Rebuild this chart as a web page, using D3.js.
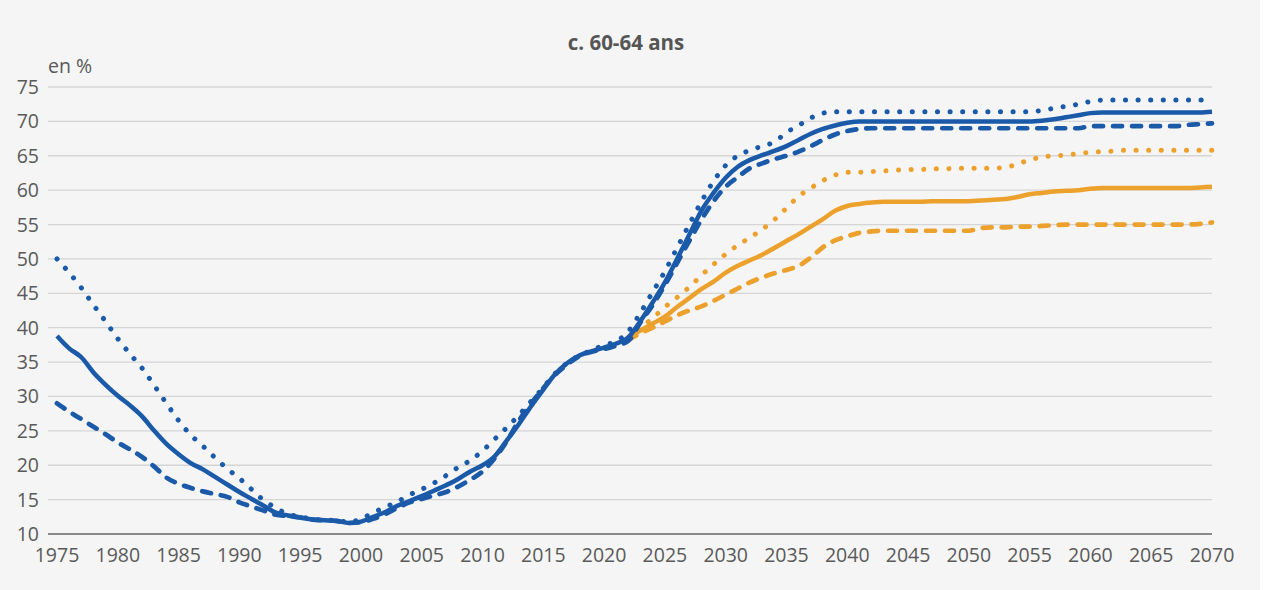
<!DOCTYPE html>
<html>
<head>
<meta charset="utf-8">
<script src="https://cdn.jsdelivr.net/npm/d3@7"></script>
<style>
  html, body { margin: 0; padding: 0; background: #ffffff; }
  svg { display: block; }
  text { font-family: "Open Sans", "Noto Sans", sans-serif; }
</style>
</head>
<body>
<div id="chart"></div>
<script>
// c. 60-64 ans - taux d'emploi, historique + projections
const title = 'c. 60-64 ans';
const unitLabel = 'en %';
const yTicks = [10, 15, 20, 25, 30, 35, 40, 45, 50, 55, 60, 65, 70, 75];
const xTicks = [1975, 1980, 1985, 1990, 1995, 2000, 2005, 2010, 2015, 2020,
  2025, 2030, 2035, 2040, 2045, 2050, 2055, 2060, 2065, 2070];

// blue series run 1975..2070, one value per year
const blueStart = 1975;
const blueSolid = [
  38.8, 37.0, 35.7, 33.5, 31.7, 30.1, 28.7, 27.1, 25.0, 23.1,
  21.6, 20.3, 19.4, 18.3, 17.2, 16.1, 15.1, 14.1, 13.1, 12.7,
  12.4, 12.1, 12.0, 11.9, 11.6, 11.8, 12.5, 13.2, 14.1, 14.8,
  15.5, 16.3, 17.1, 18.0, 19.1, 20.0, 21.3, 23.6, 26.0, 28.6,
  31.0, 33.3, 34.9, 36.0, 36.6, 37.1, 37.7, 38.6, 41.0, 43.7,
  46.6, 50.0, 53.5, 57.0, 59.6, 61.8, 63.4, 64.4, 65.1, 65.7,
  66.4, 67.3, 68.2, 68.9, 69.4, 69.8, 70.0, 70.0, 70.0, 70.0,
  70.0, 70.0, 70.0, 70.0, 70.0, 70.0, 70.0, 70.0, 70.0, 70.0,
  70.0, 70.1, 70.3, 70.6, 70.9, 71.2, 71.3, 71.3, 71.3, 71.3,
  71.3, 71.3, 71.3, 71.3, 71.3, 71.4
];
const blueDotted = [
  50.0, 48.0, 45.8, 43.3, 40.9, 38.4, 36.2, 34.1, 31.6, 29.0,
  26.5, 24.4, 22.8, 21.1, 19.5, 18.1, 16.5, 14.9, 13.8, 12.9,
  12.5, 12.2, 12.0, 12.0, 11.7, 12.2, 13.1, 13.9, 14.7, 15.7,
  16.5, 17.4, 18.5, 19.7, 20.7, 22.1, 23.8, 25.5, 27.3, 29.3,
  31.3, 33.4, 34.9, 36.0, 36.7, 37.5, 38.0, 39.5, 42.2, 45.2,
  48.2, 51.6, 55.0, 58.3, 61.3, 63.6, 65.0, 65.8, 66.4, 67.0,
  68.4, 69.4, 70.5, 71.2, 71.4, 71.4, 71.4, 71.4, 71.4, 71.4,
  71.4, 71.4, 71.4, 71.4, 71.4, 71.4, 71.4, 71.4, 71.4, 71.4,
  71.4, 71.6, 71.9, 72.2, 72.5, 72.9, 73.1, 73.1, 73.1, 73.1,
  73.1, 73.1, 73.1, 73.1, 73.1, 73.1
];
const blueDashed = [
  29.0, 27.8, 26.7, 25.6, 24.5, 23.3, 22.3, 21.2, 19.8, 18.2,
  17.3, 16.7, 16.2, 15.8, 15.4, 14.6, 14.0, 13.4, 12.8, 12.6,
  12.4, 12.1, 12.0, 11.9, 11.6, 11.7, 12.2, 12.9, 13.8, 14.6,
  15.1, 15.6, 16.1, 16.9, 17.9, 19.1, 21.0, 23.5, 26.5, 29.0,
  31.2, 33.2, 34.7, 35.9, 36.5, 36.9, 37.4, 38.1, 40.8, 43.3,
  46.2, 49.4, 52.6, 55.7, 58.4, 60.5, 61.9, 63.2, 63.9, 64.5,
  65.0, 65.6, 66.4, 67.3, 68.1, 68.6, 68.9, 69.0, 69.0, 69.0,
  69.0, 69.0, 69.0, 69.0, 69.0, 69.0, 69.0, 69.0, 69.0, 69.0,
  69.0, 69.0, 69.0, 69.0, 69.0, 69.3, 69.3, 69.3, 69.3, 69.3,
  69.3, 69.3, 69.3, 69.5, 69.6, 69.7
];

// orange series run 2022..2070
const orangeStart = 2022;
const orangeSolid = [
  38.6, 39.6, 40.6, 41.6, 43.0, 44.3, 45.6, 46.7, 48.0, 49.0,
  49.8, 50.6, 51.6, 52.6, 53.6, 54.7, 55.8, 57.0, 57.7, 58.0,
  58.2, 58.3, 58.3, 58.3, 58.3, 58.4, 58.4, 58.4, 58.4, 58.5,
  58.6, 58.7, 59.0, 59.4, 59.6, 59.8, 59.9, 60.0, 60.2, 60.3,
  60.3, 60.3, 60.3, 60.3, 60.3, 60.3, 60.3, 60.4, 60.5
];
const orangeDotted = [
  38.6, 40.0, 41.4, 43.0, 44.4, 45.9, 47.6, 49.2, 50.7, 52.0,
  53.1, 54.3, 55.7, 57.4, 59.1, 60.3, 61.4, 62.2, 62.6, 62.6,
  62.7, 62.8, 62.9, 63.0, 63.0, 63.1, 63.1, 63.2, 63.2, 63.2,
  63.2, 63.3, 63.8, 64.4, 64.8, 65.0, 65.1, 65.3, 65.5, 65.6,
  65.7, 65.8, 65.8, 65.8, 65.8, 65.8, 65.8, 65.8, 65.8
];
const orangeDashed = [
  38.2, 39.2, 40.0, 40.9, 41.8, 42.5, 43.1, 43.9, 44.8, 45.7,
  46.6, 47.3, 47.9, 48.4, 49.0, 50.2, 51.7, 52.7, 53.3, 53.8,
  54.0, 54.1, 54.1, 54.1, 54.1, 54.1, 54.1, 54.1, 54.1, 54.5,
  54.6, 54.6, 54.7, 54.7, 54.8, 54.9, 55.0, 55.0, 55.0, 55.0,
  55.0, 55.0, 55.0, 55.0, 55.0, 55.0, 55.0, 55.1, 55.3
];

const BLUE = '#1a5aa8';
const ORANGE = '#eda12d';

const width = 1263;
const height = 590;

const svg = d3.select('#chart')
  .append('svg')
  .attr('width', width)
  .attr('height', height);

// background panel (thin white strip stays on the right)
svg.append('rect')
  .attr('x', 0).attr('y', 0)
  .attr('width', 1260).attr('height', height)
  .attr('fill', '#f5f5f5');

const x = d3.scaleLinear().domain([1975, 2070]).range([57, 1212]);
const y = d3.scaleLinear().domain([10, 75]).range([534, 87]);

// gridlines
svg.append('g')
  .selectAll('line')
  .data(yTicks.filter(d => d > 10))
  .join('line')
  .attr('x1', 48)
  .attr('x2', 1212)
  .attr('y1', d => y(d))
  .attr('y2', d => y(d))
  .attr('stroke', '#d5d5d5')
  .attr('stroke-width', 1.3);

// baseline
svg.append('line')
  .attr('x1', 48).attr('x2', 1212)
  .attr('y1', y(10)).attr('y2', y(10))
  .attr('stroke', '#666')
  .attr('stroke-width', 1.5);

// y tick labels
svg.append('g')
  .selectAll('text')
  .data(yTicks)
  .join('text')
  .attr('x', 39)
  .attr('y', d => y(d))
  .attr('dy', '0.36em')
  .attr('text-anchor', 'end')
  .attr('fill', '#5a5a5a')
  .style('font-size', '19.5px')
  .text(d => d);

// x tick labels
svg.append('g')
  .selectAll('text')
  .data(xTicks)
  .join('text')
  .attr('x', d => x(d))
  .attr('y', 562)
  .attr('text-anchor', 'middle')
  .attr('fill', '#5a5a5a')
  .style('font-size', '19.5px')
  .text(d => d);

// unit + title
svg.append('text')
  .attr('x', 48)
  .attr('y', 73)
  .attr('fill', '#5a5a5a')
  .style('font-size', '19.5px')
  .text(unitLabel);

svg.append('text')
  .attr('x', 626)
  .attr('y', 50)
  .attr('text-anchor', 'middle')
  .attr('fill', '#555')
  .style('font-size', '20.5px')
  .style('font-weight', 'bold')
  .text(title);

const line = d3.line()
  .x(d => x(d[0]))
  .y(d => y(d[1]))
  .curve(d3.curveMonotoneX);

const toPoints = (start, values) => values.map((v, i) => [start + i, v]);

const series = [
  { values: orangeDashed, start: orangeStart, color: ORANGE, style: 'dashed' },
  { values: orangeDotted, start: orangeStart, color: ORANGE, style: 'dotted' },
  { values: orangeSolid, start: orangeStart, color: ORANGE, style: 'solid' },
  { values: blueDashed, start: blueStart, color: BLUE, style: 'dashed' },
  { values: blueDotted, start: blueStart, color: BLUE, style: 'dotted' },
  { values: blueSolid, start: blueStart, color: BLUE, style: 'solid' }
];

series.forEach(s => {
  const path = svg.append('path')
    .datum(toPoints(s.start, s.values))
    .attr('fill', 'none')
    .attr('stroke', s.color)
    .attr('stroke-linejoin', 'round')
    .attr('d', line);

  if (s.style === 'solid') {
    path.attr('stroke-width', 4.5);
  } else if (s.style === 'dashed') {
    path.attr('stroke-width', 4.7)
      .attr('stroke-linecap', 'round')
      .attr('stroke-dasharray', '9 10');
  } else {
    path.attr('stroke-width', 5)
      .attr('stroke-linecap', 'round')
      .attr('stroke-dasharray', '0.1 12.5');
  }
});
</script>
</body>
</html>
